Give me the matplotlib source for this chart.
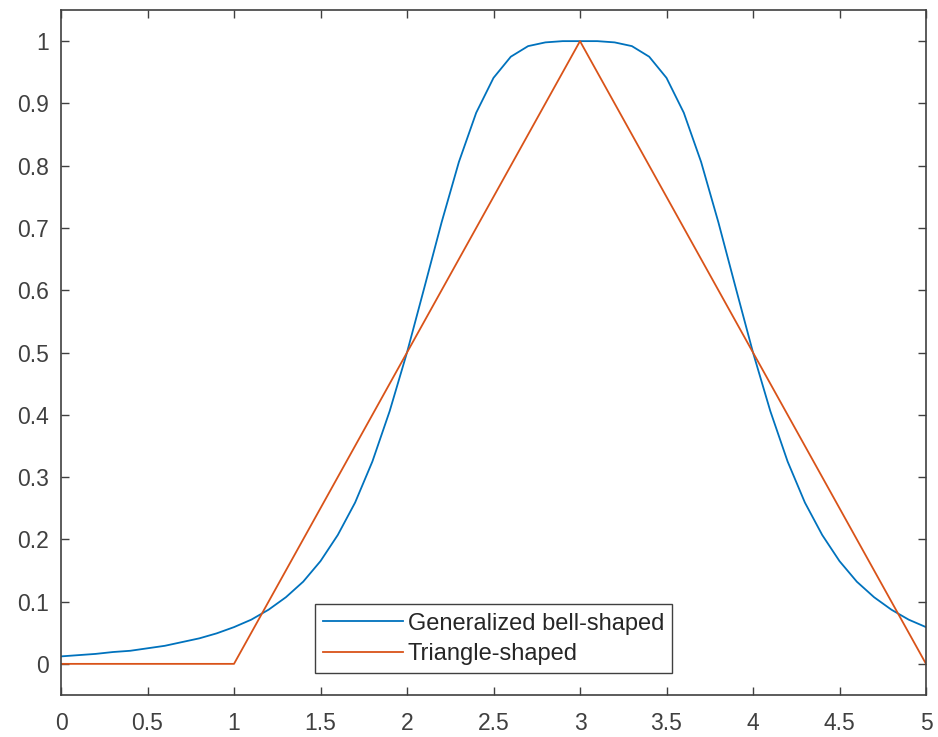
import matplotlib
matplotlib.use("Agg")
import matplotlib.pyplot as plt

plt.rcParams["font.family"] = ["Liberation Sans", "DejaVu Sans"]

# Data
x_bell = [0.0, 0.1, 0.2, 0.3, 0.4, 0.5, 0.6, 0.7, 0.8, 0.9,
          1.0, 1.1, 1.2, 1.3, 1.4, 1.5, 1.6, 1.7, 1.8, 1.9,
          2.0, 2.1, 2.2, 2.3, 2.4, 2.5, 2.6, 2.7, 2.8, 2.9,
          3.0, 3.1, 3.2, 3.3, 3.4, 3.5, 3.6, 3.7, 3.8, 3.9,
          4.0, 4.1, 4.2, 4.3, 4.4, 4.5, 4.6, 4.7, 4.8, 4.9, 5.0]
y_bell = [0.012, 0.014, 0.016, 0.019, 0.021, 0.025, 0.029, 0.035, 0.041, 0.049,
          0.059, 0.071, 0.087, 0.107, 0.132, 0.165, 0.207, 0.259, 0.325, 0.406,
          0.500, 0.604, 0.709, 0.806, 0.885, 0.941, 0.975, 0.992, 0.998, 1.000,
          1.000, 1.000, 0.998, 0.992, 0.975, 0.941, 0.885, 0.806, 0.709, 0.604,
          0.500, 0.406, 0.325, 0.259, 0.207, 0.165, 0.132, 0.107, 0.087, 0.071, 0.059]
x_tri = [0, 1, 3, 5]
y_tri = [0, 0, 1, 0]

labels = ["Generalized bell-shaped", "Triangle-shaped"]
xticks = [0, 0.5, 1, 1.5, 2, 2.5, 3, 3.5, 4, 4.5, 5]
xticklabels = ["0", "0.5", "1", "1.5", "2", "2.5", "3", "3.5", "4", "4.5", "5"]
yticks = [0, 0.1, 0.2, 0.3, 0.4, 0.5, 0.6, 0.7, 0.8, 0.9, 1]
yticklabels = ["0", "0.1", "0.2", "0.3", "0.4", "0.5", "0.6", "0.7", "0.8", "0.9", "1"]

axis_color = "#404040"

fig = plt.figure(figsize=(9.38, 7.37), dpi=100)
ax = fig.add_axes([61 / 938, 42 / 737, 865 / 938, 685 / 737])

ax.plot(x_bell, y_bell, color="#0072BD", lw=1.3, label=labels[0])
ax.plot(x_tri, y_tri, color="#D95319", lw=1.3, label=labels[1])

ax.set_xlim(0, 5)
ax.set_ylim(-0.05, 1.05)
ax.set_xticks(xticks)
ax.set_xticklabels(xticklabels)
ax.set_yticks(yticks)
ax.set_yticklabels(yticklabels)

ax.tick_params(direction="in", top=True, right=True, length=6, width=1,
               color=axis_color, labelcolor=axis_color, labelsize=16.5)
ax.tick_params(axis="x", pad=12)
ax.tick_params(axis="y", pad=9)
for s in ax.spines.values():
    s.set_color(axis_color)
    s.set_linewidth(1.2)

leg = ax.legend(loc="lower center", bbox_to_anchor=(0.5, 0.032), borderaxespad=0,
                fontsize=17, fancybox=False, framealpha=1, edgecolor=axis_color,
                handlelength=3.4, handletextpad=0.2, borderpad=0.35, labelspacing=0.35)
leg.get_frame().set_linewidth(1.0)
for t in leg.get_texts():
    t.set_color("#262626")

fig.savefig("out.png", dpi=100)
